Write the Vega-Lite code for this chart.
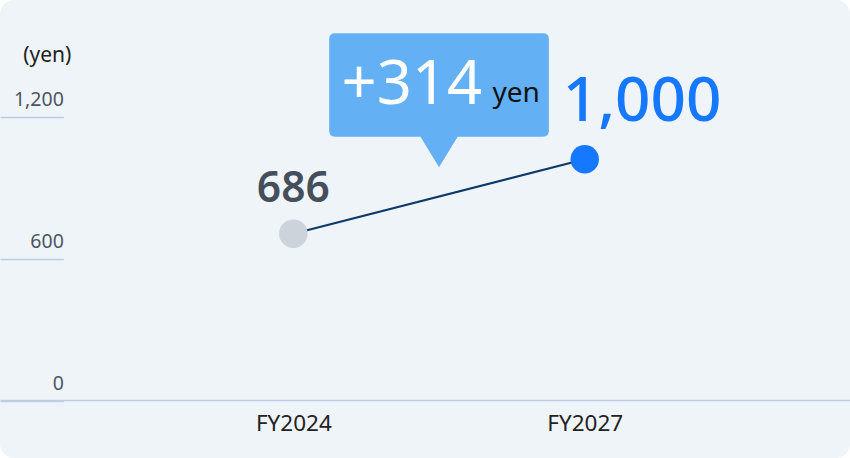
{
  "$schema": "https://vega.github.io/schema/vega-lite/v6.json",
  "width": 850,
  "height": 458,
  "autosize": {"type": "none"},
  "padding": 0,
  "background": "#ffffff",
  "config": {
    "font": "Noto Sans",
    "view": {"fill": "#eff4f9", "stroke": null, "cornerRadius": 14}
  },
  "datasets": {
    "points": [
      {"fy": 2024, "value": 686, "label": "686", "role": "actual"},
      {"fy": 2027, "value": 1000, "label": "1,000", "role": "target"}
    ],
    "callout": [
      {"fy": 2025.5, "value": 843, "delta": "+314", "unit": "yen"}
    ]
  },
  "layer": [
    {
      "data": {"name": "points"},
      "mark": {"type": "line", "color": "#0c3a68", "strokeWidth": 2},
      "encoding": {
        "x": {
          "field": "fy",
          "type": "quantitative",
          "scale": {"domain": [2020.98, 2029.731], "nice": false, "zero": false},
          "axis": {
            "orient": "bottom",
            "offset": -58,
            "values": [2024, 2027],
            "labelExpr": "'FY' + datum.value",
            "title": null,
            "grid": false,
            "ticks": false,
            "domainColor": "#bccde4",
            "domainWidth": 1.6,
            "labelFontSize": 22.5,
            "labelColor": "#222222",
            "labelBaseline": "alphabetic",
            "labelPadding": 30,
            "labelFlush": false
          }
        },
        "y": {
          "field": "value",
          "type": "quantitative",
          "scale": {"domain": [-261, 1672.4], "nice": false, "zero": false},
          "axis": {
            "orient": "left",
            "offset": -63.3,
            "values": [0, 600, 1200],
            "format": ",d",
            "grid": false,
            "domain": false,
            "ticks": true,
            "tickSize": 63.3,
            "tickColor": "#bccde4",
            "tickWidth": 1.6,
            "tickOffset": 4.8,
            "labelAlign": "right",
            "labelBaseline": "alphabetic",
            "labelPadding": -63.3,
            "labelOffset": -11.5,
            "labelFontSize": 19.5,
            "labelColor": "#4b5563",
            "labelFlush": false,
            "title": "(yen)",
            "titleAngle": 0,
            "titleAlign": "center",
            "titleBaseline": "alphabetic",
            "titleX": -16.5,
            "titleY": 61,
            "titleFontSize": 21,
            "titleFontWeight": "normal",
            "titleColor": "#222222"
          }
        }
      }
    },
    {
      "data": {"name": "points"},
      "mark": {"type": "point", "filled": true, "opacity": 1, "size": 810},
      "encoding": {
        "x": {"field": "fy", "type": "quantitative"},
        "y": {"field": "value", "type": "quantitative"},
        "color": {
          "field": "role",
          "type": "nominal",
          "scale": {"domain": ["actual", "target"], "range": ["#ccd3da", "#1677ff"]},
          "legend": null
        }
      }
    },
    {
      "data": {"name": "points"},
      "transform": [{"filter": "datum.role === 'actual'"}],
      "mark": {"type": "text", "align": "center", "baseline": "alphabetic", "dy": -32, "fontSize": 42.5, "fontWeight": 600, "color": "#454f5b"},
      "encoding": {
        "x": {"field": "fy", "type": "quantitative"},
        "y": {"field": "value", "type": "quantitative"},
        "text": {"field": "label"}
      }
    },
    {
      "data": {"name": "points"},
      "transform": [{"filter": "datum.role === 'target'"}],
      "mark": {"type": "text", "align": "left", "baseline": "alphabetic", "dx": -22, "dy": -38.6, "fontSize": 62, "fontWeight": 500, "color": "#1677ff"},
      "encoding": {
        "x": {"field": "fy", "type": "quantitative"},
        "y": {"field": "value", "type": "quantitative"},
        "text": {"field": "label"}
      }
    },
    {
      "data": {"name": "callout"},
      "mark": {
        "type": "point",
        "filled": true,
        "opacity": 1,
        "color": "#63b1f4",
        "size": 48268,
        "yOffset": -111.5,
        "shape": "M-0.945,-0.4706 L0.945,-0.4706 Q1,-0.4706 1,-0.416 L1,0.416 Q1,0.4706 0.945,0.4706 L0.169,0.4706 L0,0.749 L-0.169,0.4706 L-0.945,0.4706 Q-1,0.4706 -1,0.416 L-1,-0.416 Q-1,-0.4706 -0.945,-0.4706 Z"
      },
      "encoding": {
        "x": {"field": "fy", "type": "quantitative"},
        "y": {"field": "value", "type": "quantitative"}
      }
    },
    {
      "data": {"name": "callout"},
      "mark": {"type": "text", "align": "left", "baseline": "alphabetic", "dx": -97.5, "dy": -92.5, "fontSize": 61.5, "fontWeight": 400, "color": "#ffffff"},
      "encoding": {
        "x": {"field": "fy", "type": "quantitative"},
        "y": {"field": "value", "type": "quantitative"},
        "text": {"field": "delta"}
      }
    },
    {
      "data": {"name": "callout"},
      "mark": {"type": "text", "align": "left", "baseline": "alphabetic", "dx": 53.5, "dy": -94.8, "fontSize": 28, "fontWeight": 400, "color": "#111111"},
      "encoding": {
        "x": {"field": "fy", "type": "quantitative"},
        "y": {"field": "value", "type": "quantitative"},
        "text": {"field": "unit"}
      }
    }
  ]
}
